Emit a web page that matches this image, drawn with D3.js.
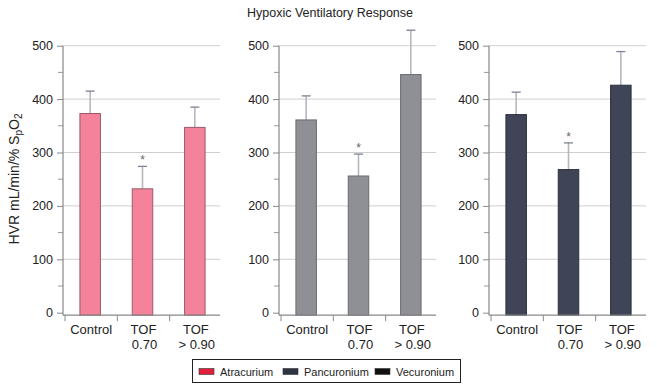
<!DOCTYPE html>
<html>
<head>
<meta charset="utf-8">
<script src="https://cdn.jsdelivr.net/npm/d3@7"></script>
<style>
  body { margin: 0; background: #fff; }
  svg { display: block; font-family: "Liberation Sans", Arial, sans-serif; }
</style>
</head>
<body>
<svg id="chart" width="657" height="389"></svg>
<script>
// categories and values
var categories = ["Control", "TOF 0.70", "TOF > 0.90"];
var catLine1 = ["Control", "TOF", "TOF"];
var catLine2 = ["", "0.70", "> 0.90"];
var drugs = ["Atracurium", "Pancuronium", "Vecuronium"];
var meanAtracurium = [373, 232, 347];
var meanPancuronium = [361, 256, 446];
var meanVecuronium = [371, 268, 426];
var sdAtracurium = [42, 42, 38];
var sdPancuronium = [45, 41, 83];
var sdVecuronium = [42, 50, 63];
var significant = [false, true, false];
var yTicks = [0, 100, 200, 300, 400, 500];

var means = [meanAtracurium, meanPancuronium, meanVecuronium];
var sds = [sdAtracurium, sdPancuronium, sdVecuronium];

var barFill = ["#f4829a", "#8e9095", "#3f4456"];
var barStroke = ["#9a5a6a", "#6a6c72", "#2c303c"];
var legendFill = ["#e0203a", "#2e3444", "#111111"];

var svg = d3.select("#chart");
var panelX = [63, 279, 489];
var panelW = 157;

var y = d3.scaleLinear().domain([0, 500]).range([312.7, 45.7]);
var baseY = y(0) + 2.5;

// title
svg.append("text")
    .attr("x", 330).attr("y", 17)
    .attr("text-anchor", "middle")
    .attr("font-size", 12.5)
    .attr("fill", "#222")
    .text("Hypoxic Ventilatory Response");

// y label
var yl = svg.append("text")
    .attr("transform", "translate(19,179) rotate(-90)")
    .attr("text-anchor", "middle")
    .attr("font-size", 14)
    .attr("fill", "#222");
yl.append("tspan").text("HVR mL/min/% S");
yl.append("tspan").attr("font-size", 10).attr("dy", 3).text("p");
yl.append("tspan").attr("dy", -3).text("O");
yl.append("tspan").attr("font-size", 10).attr("dy", 3).text("2");

drugs.forEach(function(drug, p) {
    var x0 = panelX[p];
    var g = svg.append("g");
    var x = d3.scaleBand().domain(categories).range([x0 + 1, x0 + panelW + 1]);

    // gridlines
    g.selectAll(".grid").data(yTicks.filter(function(d) { return d > 0; }))
        .enter().append("line")
        .attr("x1", x0).attr("x2", x0 + panelW)
        .attr("y1", function(d) { return y(d); })
        .attr("y2", function(d) { return y(d); })
        .attr("stroke", "#cfcfcf").attr("stroke-width", 1);

    // y axis
    var yAxis = d3.axisLeft(y).tickValues(yTicks).tickSize(6).tickPadding(4);
    var ya = g.append("g").attr("transform", "translate(" + x0 + ",0)").call(yAxis);
    ya.select(".domain").remove();
    ya.selectAll("line").attr("stroke", "#888");
    ya.selectAll("text").attr("font-size", 12.5).attr("fill", "#222")
        .attr("font-family", "Liberation Sans, Arial, sans-serif");
    // minor ticks
    g.selectAll(".minor").data(d3.range(50, 500, 100))
        .enter().append("line")
        .attr("x1", x0 - 5).attr("x2", x0)
        .attr("y1", function(d) { return y(d); })
        .attr("y2", function(d) { return y(d); })
        .attr("stroke", "#999");
    g.append("line")
        .attr("x1", x0).attr("x2", x0)
        .attr("y1", y(500)).attr("y2", baseY)
        .attr("stroke", "#888").attr("stroke-width", 1.2);

    // bars
    var vals = means[p], err = sds[p];
    g.selectAll(".err").data(categories).enter().append("line")
        .attr("x1", function(d) { return x(d) + x.bandwidth() / 2; })
        .attr("x2", function(d) { return x(d) + x.bandwidth() / 2; })
        .attr("y1", function(d, i) { return y(vals[i]); })
        .attr("y2", function(d, i) { return y(vals[i] + err[i]); })
        .attr("stroke", "#b4b8c0").attr("stroke-width", 1.6);
    g.selectAll(".cap").data(categories).enter().append("line")
        .attr("x1", function(d) { return x(d) + x.bandwidth() / 2 - 4.5; })
        .attr("x2", function(d) { return x(d) + x.bandwidth() / 2 + 4.5; })
        .attr("y1", function(d, i) { return y(vals[i] + err[i]); })
        .attr("y2", function(d, i) { return y(vals[i] + err[i]); })
        .attr("stroke", "#7c8290").attr("stroke-width", 1.3);
    g.selectAll(".bar").data(categories).enter().append("rect")
        .attr("x", function(d) { return x(d) + x.bandwidth() / 2 - 10.25; })
        .attr("width", 20.5)
        .attr("y", function(d, i) { return y(vals[i]); })
        .attr("height", function(d, i) { return baseY - y(vals[i]); })
        .attr("fill", barFill[p])
        .attr("stroke", barStroke[p]).attr("stroke-width", 1);
    g.selectAll(".star").data(categories).enter().filter(function(d, i) { return significant[i]; })
        .append("text")
        .attr("x", function(d) { return x(d) + x.bandwidth() / 2; })
        .attr("y", function(d) { var i = categories.indexOf(d); return y(vals[i] + err[i]) - 2; })
        .attr("text-anchor", "middle")
        .attr("font-size", 12).attr("fill", "#666")
        .text("*");

    // x axis
    g.append("line")
        .attr("x1", x0).attr("x2", x0 + panelW)
        .attr("y1", baseY).attr("y2", baseY)
        .attr("stroke", "#888").attr("stroke-width", 1.2);
    g.selectAll(".xt").data(categories).enter().append("line")
        .attr("x1", function(d) { return x(d) + 1; })
        .attr("x2", function(d) { return x(d) + 1; })
        .attr("y1", baseY).attr("y2", baseY + 6)
        .attr("stroke", "#888");
    var lab = g.selectAll(".xl").data(categories).enter().append("text")
        .attr("text-anchor", "middle")
        .attr("font-size", 13).attr("fill", "#222");
    lab.append("tspan")
        .attr("x", function(d) { return x(d) + x.bandwidth() / 2 + 1; })
        .attr("y", 334)
        .text(function(d, i) { return catLine1[i]; });
    lab.append("tspan")
        .attr("x", function(d) { return x(d) + x.bandwidth() / 2 + 2; })
        .attr("y", 349)
        .text(function(d, i) { return catLine2[i]; });
});

// legend
var lg = svg.append("g");
lg.append("rect")
    .attr("x", 192.5).attr("y", 359.5).attr("width", 268).attr("height", 23)
    .attr("fill", "#fff").attr("stroke", "#222").attr("stroke-width", 1);
var legX = [199, 283, 375];
drugs.forEach(function(d, i) {
    lg.append("rect")
        .attr("x", legX[i]).attr("y", 368.5).attr("width", 15).attr("height", 6)
        .attr("fill", legendFill[i]).attr("stroke", "#333").attr("stroke-width", 0.6);
    lg.append("text")
        .attr("x", legX[i] + 21).attr("y", 375.5)
        .attr("font-size", 11).attr("fill", "#222")
        .text(d);
});
</script>
</body>
</html>
